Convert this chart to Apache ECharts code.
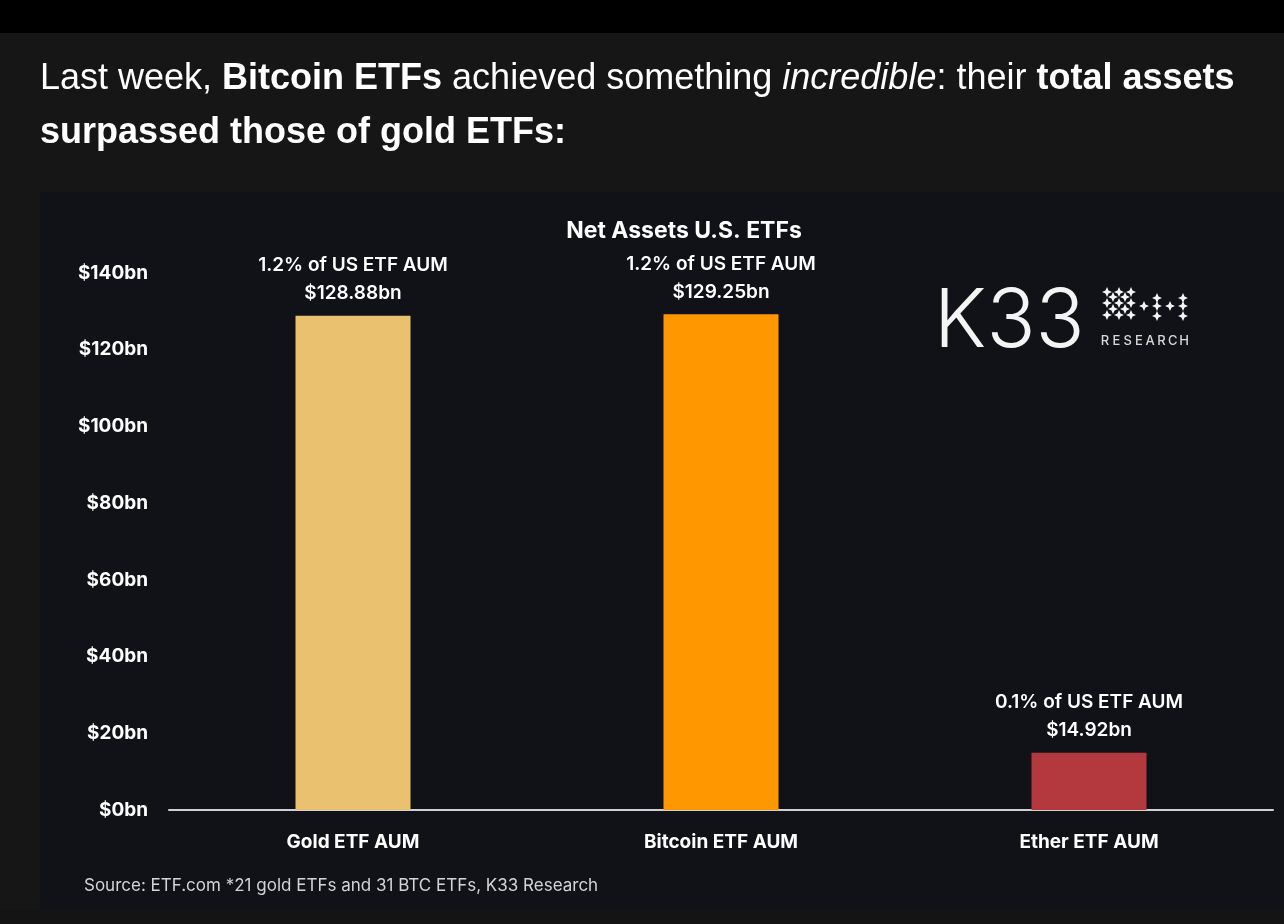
<!DOCTYPE html>
<html>
<head>
<meta charset="utf-8">
<script src="https://cdn.jsdelivr.net/npm/echarts@6/dist/echarts.min.js"></script>
<style>
html,body{margin:0;padding:0;background:#161616;}
#chart{width:1284px;height:924px;}
</style>
</head>
<body>
<div id="chart"></div>
<script>
const categories = ['Gold ETF AUM', 'Bitcoin ETF AUM', 'Ether ETF AUM'];
const values = [128.88, 129.25, 14.92];
const shareOfUsEtf = ['1.2%', '1.2%', '0.1%'];
const barColors = ['#E9C16F', '#FF9800', '#B3393F'];
const yTicks = [0, 20, 40, 60, 80, 100, 120, 140];

const chart = echarts.init(document.getElementById('chart'), null, {renderer: 'canvas'});

const font = 'Inter, "Noto Sans", sans-serif';

// K33 logo dots
const dotPos = [
  [1107,292],[1119,292],[1131,292],
  [1113,297],[1125,297],
  [1107,303],[1119,303],[1131,303],
  [1113,309],[1125,309],
  [1107,315],[1119,315],[1131,315],
  [1157,298],[1183,298],
  [1144,306],[1157,306],[1170,306],[1183,306],
  [1157,316],[1183,316]
];
function star(cx, cy, R, r){
  const pts = [];
  for (let i = 0; i < 8; i++){
    const rad = (i % 2 === 0) ? R : r;
    const a = -Math.PI/2 + i * Math.PI/4;
    pts.push([cx + rad*Math.cos(a), cy + rad*Math.sin(a)]);
  }
  return pts;
}
const dotGraphics = dotPos.map(p => ({
  type: 'polygon', z: 5,
  shape: {points: star(p[0], p[1], 5, 2.2)},
  style: {fill: '#f4f4f4'}
}));
const researchLetters = 'RESEARCH'.split('').map((ch, i) => ({
  type: 'text', z: 10, x: 1105 + i * 11.3, y: 341,
  style: {text: ch, fill: '#d8d8d8', font: '500 13px Inter, "Noto Sans", sans-serif', align: 'center', verticalAlign: 'middle'}
}));

const option = {
  backgroundColor: '#161616',
  animation: false,
  title: {
    text: 'Net Assets U.S. ETFs',
    left: 679, top: 215, textAlign: 'center',
    textStyle: {color: '#ffffff', fontFamily: font, fontWeight: 'bold', fontSize: 23}
  },
  grid: {left: 169, right: 11, top: 273, bottom: 114, containLabel: false},
  xAxis: {
    type: 'category',
    data: categories,
    axisLine: {show: true, lineStyle: {color: '#d0d0d0', width: 2}},
    axisTick: {show: false},
    axisLabel: {color: '#ffffff', fontFamily: font, fontWeight: 'bold', fontSize: 19, margin: 23}
  },
  yAxis: {
    type: 'value',
    min: 0, max: 140, interval: 20,
    axisLine: {show: false},
    axisTick: {show: false},
    splitLine: {show: false},
    axisLabel: {
      color: '#ffffff', fontFamily: font, fontWeight: 'bold', fontSize: 19, margin: 21,
      formatter: v => '$' + v + 'bn'
    }
  },
  series: [{
    type: 'bar',
    barWidth: 115,
    data: values.map((v, i) => ({value: v, itemStyle: {color: barColors[i]}})),
    label: {
      show: true,
      position: 'top',
      distance: 8,
      color: '#ffffff',
      fontFamily: font,
      fontWeight: 600,
      fontSize: 19,
      lineHeight: 28,
      formatter: p => shareOfUsEtf[p.dataIndex] + ' of US ETF AUM\n$' + values[p.dataIndex].toFixed(2) + 'bn'
    }
  }],
  graphic: [
    {type: 'rect', z: -10, shape: {x: 0, y: 0, width: 1284, height: 33}, style: {fill: '#000000'}},
    {type: 'rect', z: -10, shape: {x: 40, y: 192, width: 1244, height: 718}, style: {fill: '#111218'}},
    {type: 'rect', z: -10, shape: {x: 0, y: 910, width: 1284, height: 14}, style: {fill: '#131413'}},
    {
      type: 'text', left: 40, top: 52, z: 10,
      style: {
        text: 'Last week, {b|Bitcoin ETFs} achieved something {i|incredible}: their {b|total assets}\n{b|surpassed those of gold ETFs:}',
        fill: '#ffffff',
        font: '36px "Liberation Sans", Arial, sans-serif',
        lineHeight: 54,
        rich: {
          b: {fontWeight: 'bold', fontSize: 36, fontFamily: '"Liberation Sans", Arial, sans-serif', fill: '#ffffff', lineHeight: 54},
          i: {fontStyle: 'italic', fontSize: 36, fontFamily: '"Liberation Sans", Arial, sans-serif', fill: '#ffffff', lineHeight: 54}
        }
      }
    },
    {
      type: 'text', left: 84, top: 877, z: 10,
      style: {text: 'Source: ETF.com *21 gold ETFs and 31 BTC ETFs, K33 Research', fill: '#d4d4d4',
        font: '17px Inter, "Noto Sans", sans-serif'}
    },
    {
      type: 'text', left: 934, top: 282, z: 10,
      style: {text: 'K33', fill: '#f4f4f4', font: '300 81px Inter, "Noto Sans", sans-serif'}
    }
  ].concat(researchLetters).concat(dotGraphics)
};
chart.setOption(option);
</script>
</body>
</html>
